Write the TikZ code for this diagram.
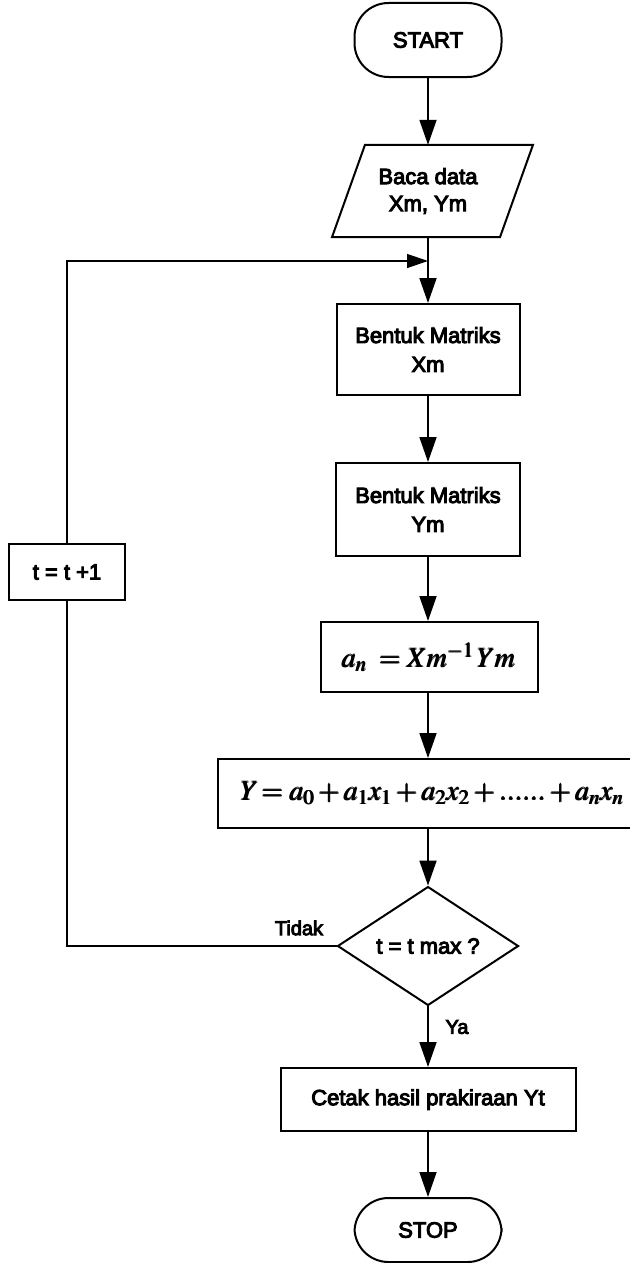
\documentclass[tikz,border=0pt]{standalone}
\usepackage{mathptmx}
\usepackage{amsmath}
\usepackage[no-math]{fontspec}
\setmainfont{Liberation Sans}[FakeBold=4.5]
\usetikzlibrary{shapes.geometric,arrows.meta,calc}

\begin{document}
\begin{tikzpicture}[x=1pt,y=-1pt,
  every node/.style={font=\fontsize{22}{25}\selectfont, inner sep=0pt, align=center},
  boxline/.style={line width=2pt},
  procbox/.style={boxline, draw, rectangle},
  terminal/.style={boxline, draw, rectangle, rounded corners=34pt,
                   minimum width=147pt},
  mathtext/.style={font=\fontsize{28}{30}\selectfont},
  flow/.style={line width=1.8pt, -{Triangle[length=25pt,width=17pt]}},
  loopline/.style={line width=1.3pt},
  lbl/.style={font=\fontsize{20}{22}\selectfont}
]
  \useasboundingbox (0,0) rectangle (629,1263);

  % terminals, process boxes and the decision
  \node[terminal, minimum height=74pt] (start) at (428,40) {START};

  \node[minimum width=136pt, minimum height=92pt] (baca) at (428,191)
       {Baca data\\[2pt]Xm, Ym};
  \draw[boxline, line join=miter]
       ($(baca.north)+(-63,0)$) -- ($(baca.north)+(105,0)$) --
       ($(baca.south)+(72,0)$) -- ($(baca.south)+(-96,0)$) -- cycle;

  \node[procbox, minimum width=183pt, minimum height=91pt] (mx) at (428,349.5)
       {Bentuk Matriks\\[4pt]Xm};
  \node[procbox, minimum width=184pt, minimum height=93pt] (my) at (428,509.5)
       {Bentuk Matriks\\[4pt]Ym};
  \node[procbox, mathtext, minimum width=217pt, minimum height=70pt] (an) at (429,657)
       {$\pmb{a_n\;=Xm^{-1}\,Ym}$};
  \node[procbox, mathtext, text width=398pt, inner xsep=8pt, align=right,
        minimum height=69pt] (reg) at (425,793.5)
       {$\pmb{Y\!=a_0+a_1x_1+a_2x_2+......+a_nx_n}$};
  \node[boxline, draw, diamond, minimum width=181pt, minimum height=102pt] (cek) at (428,946)
       {t = t max ?};
  \node[procbox, minimum width=295pt, minimum height=63pt] (cetak) at (428,1099.5)
       {Cetak hasil prakiraan Yt};
  \node[terminal, minimum height=64pt] (stop) at (428,1230) {STOP};

  \node[procbox, line width=1.5pt, minimum width=116pt, minimum height=56pt] (inc) at (67,572)
       {t = t +1};

  % main flow
  \coordinate (join) at (428,261);
  \draw[flow] (start.south) -- (start.south |- baca.north);
  \draw[line width=1.8pt] (baca.south) -- (join);
  \draw[flow] (join) -- (join |- mx.north);
  \draw[flow] (mx.south -| join) -- (join |- my.north);
  \draw[flow] (my.south -| join) -- (join |- an.north);
  \draw[flow] (an.south -| join) -- (join |- reg.north);
  \draw[flow] (reg.south -| join) -- (join |- cek.north);
  \draw[flow] (cek.south) -- (cek.south |- cetak.north);
  \draw[flow] (cetak.south) -- (cetak.south |- stop.north);

  % loop back through t = t + 1
  \draw[loopline] (cek.west) -- (cek.west -| inc.south) -- (inc.south);
  \draw[loopline, -{Triangle[length=21pt,width=14pt]}]
       (inc.north) -- (inc.north |- join) -- (join);

  % branch labels
  \node[lbl] (tidak) at (299,928) {Tidak};
  \node[lbl] (ya) at (457,1027) {Ya};
\end{tikzpicture}
\end{document}
